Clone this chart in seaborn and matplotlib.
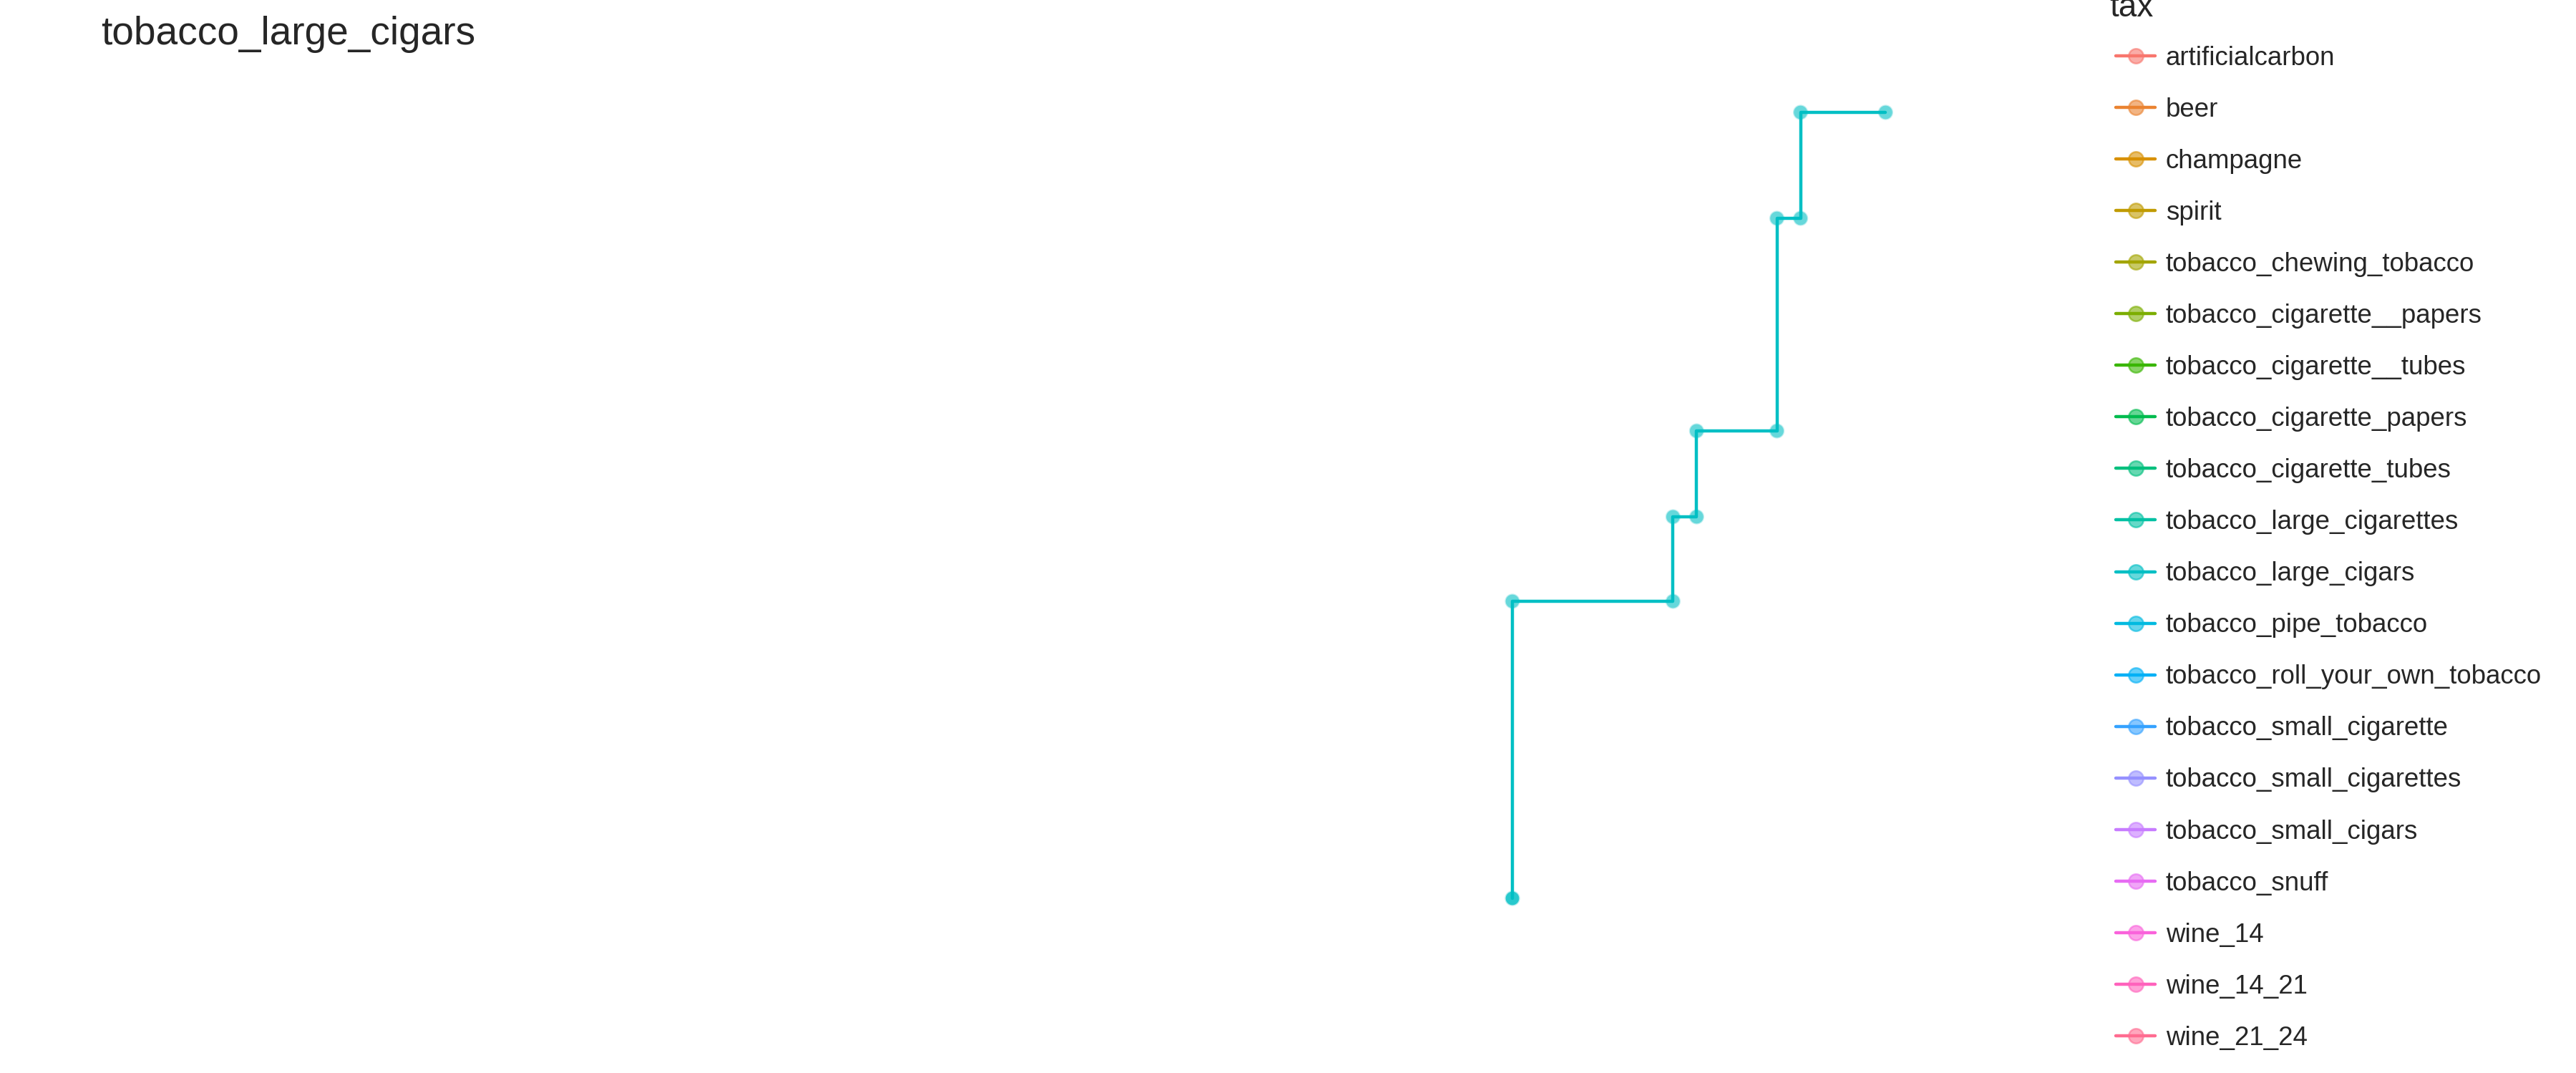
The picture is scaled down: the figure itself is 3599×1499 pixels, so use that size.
import pandas as pd
import numpy as np
import matplotlib
matplotlib.use('Agg')
import matplotlib.pyplot as plt
import seaborn as sns
from matplotlib.lines import Line2D
from matplotlib.colors import to_rgba

# categories of the legend (ggplot hue order)
taxes = ['artificialcarbon', 'beer', 'champagne', 'spirit', 'tobacco_chewing_tobacco',
         'tobacco_cigarette__papers', 'tobacco_cigarette__tubes', 'tobacco_cigarette_papers',
         'tobacco_cigarette_tubes', 'tobacco_large_cigarettes', 'tobacco_large_cigars',
         'tobacco_pipe_tobacco', 'tobacco_roll_your_own_tobacco', 'tobacco_small_cigarette',
         'tobacco_small_cigarettes', 'tobacco_small_cigars', 'tobacco_snuff',
         'wine_14', 'wine_14_21', 'wine_21_24']
colours = ['#F8766D', '#EA8331', '#D89000', '#C09B00', '#A3A500', '#7CAE00', '#39B600',
           '#00BB4E', '#00BF7D', '#00C1A3', '#00BFC4', '#00BAE0', '#00B0F6', '#35A2FF',
           '#9590FF', '#C77CFF', '#E76BF3', '#FA62DB', '#FF62BC', '#FF6C91']

# only this tax is shown in the frame
shown = 'tobacco_large_cigars'
year = [2000.0, 2000.0, 2000.0, 2006.8, 2006.8, 2007.8, 2007.8, 2011.2, 2011.2, 2012.2, 2012.2, 2015.8]
rate = [0.0, 0.0, 4.15, 4.15, 5.33, 5.33, 6.53, 6.53, 9.50, 9.50, 10.98, 10.98]

df = pd.DataFrame({'year': year, 'rate': rate, 'tax': shown})
pal = dict(zip(taxes, colours))

sns.set_style('white')
plt.rcParams['font.family'] = ['Liberation Sans', 'DejaVu Sans']

fig = plt.figure(figsize=(3599 / 300, 1499 / 300), dpi=300)
ax = fig.add_axes([0, 0, 1, 1])

sns.scatterplot(data=df, x='year', y='rate', hue='tax', palette=pal, hue_order=taxes,
                s=26, alpha=0.6, linewidth=0.6, legend=False, ax=ax, zorder=2)
sns.lineplot(data=df, x='year', y='rate', hue='tax', palette=pal, hue_order=taxes,
             estimator=None, sort=False, lw=1.07, legend=False, ax=ax, zorder=3)

ax.set_xlim(1935.97, 2045.03)
ax.set_ylim(-2.44, 12.55)
ax.set_axis_off()

fig.text(141 / 3599, 1 - 62 / 1499, shown, fontsize=13.2, ha='left', va='baseline')
fig.text(2947 / 3599, 1 - 23 / 1499, 'tax', fontsize=11, ha='left', va='baseline')

handles = [Line2D([0], [0], color=c, lw=1.07, marker='o', markersize=4.9,
                  markerfacecolor=to_rgba(c, 0.6), markeredgecolor=to_rgba(c, 0.6),
                  markeredgewidth=0.6) for c in colours]
fig.legend(handles, taxes, loc='upper left', bbox_to_anchor=(2956 / 3599, 1 - 64 / 1499),
           frameon=False, fontsize=8.8, handlelength=1.5, handletextpad=0.4,
           labelspacing=1.01, borderpad=0, borderaxespad=0)

fig.savefig('out.png', dpi=300, facecolor='white')
